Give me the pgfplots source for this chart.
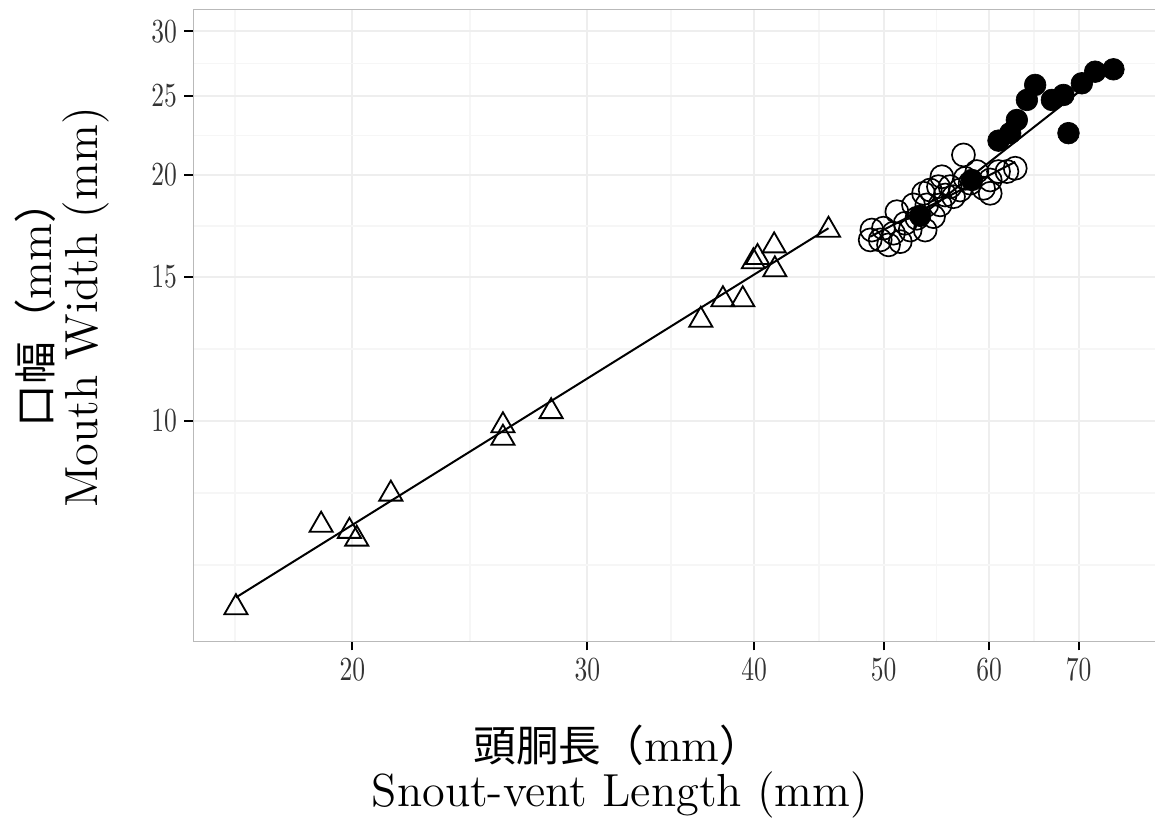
\documentclass[border=0pt]{standalone}
\usepackage{pgfplots}
\pgfplotsset{compat=1.18}
\usepackage{fontspec}
\newfontfamily\cjk{Noto Sans CJK JP}
\newcommand\tl[1]{\scalebox{0.76}[1]{#1}}
\begin{document}
\begin{tikzpicture}
\begin{axis}[
  at={(0,0)}, anchor=south west,
  scale only axis, width=288.81pt, height=189.66pt,
  xmode=log, ymode=log,
  xmin=15.2, xmax=80, ymin=5.37, ymax=31.92,
  xtick={20,30,40,50,60,70},
  xticklabels={\tl{20},\tl{30},\tl{40},\tl{50},\tl{60},\tl{70}},
  ytick={10,15,20,25,30},
  yticklabels={\tl{10},\tl{15},\tl{20},\tl{25},\tl{30}},
  minor xtick={16.33,24.49,34.64,44.72,54.77,64.81},
  minor ytick={6.667,8.165,12.247,17.32,22.36,27.39},
  grid=both,
  major grid style={gray!13, line width=0.6pt},
  minor grid style={gray!7, line width=0.5pt},
  tick align=outside, major tick length=2.7pt, minor tick length=0pt,
  xtick pos=bottom, ytick pos=left,
  tick style={black, line width=0.6pt},
  axis line style={gray!55, line width=0.45pt},
  ticklabel style={font=\fontsize{10.1}{12}\selectfont, text=black!80, inner sep=2pt},
]
% juveniles (open triangles)
\addplot[only marks, draw=black, mark=triangle, mark size=4.0pt, line width=0.55pt] coordinates {
(16.36,5.91) (18.95,7.457) (19.90,7.33) (20.15,7.17) (21.37,8.14)
(25.93,9.87) (25.93,9.53) (28.18,10.27)
(36.48,13.29) (37.90,14.08) (39.22,14.08) (39.95,15.67) (40.23,15.86)
(41.40,16.39) (41.45,15.32) (45.47,17.13)
};
% open circles
\addplot[only marks, draw=black, mark=o, mark size=3.45pt, line width=0.5pt] coordinates {
(48.86,16.66) (49.00,17.13) (49.99,17.22) (50.43,16.43) (51.46,16.58)
(51.90,17.46) (51.16,18.04) (52.65,18.39) (53.72,17.13) (54.50,17.79)
(54.19,19.18) (54.97,19.36) (55.29,19.91) (56.09,19.36) (56.41,18.82)
(57.07,19.18) (57.56,19.82) (57.39,21.17) (58.73,20.20) (59.41,19.27)
(60.10,19.73) (60.97,20.20) (61.86,20.20) (62.75,20.39) (52.96,17.71)
(52.35,17.13) (50.86,16.98) (53.57,19.00) (55.61,18.91) (53.88,18.39)
(49.71,16.66) (55.13,18.39) (60.10,19.00) (58.06,19.55)
};
% filled circles
\addplot[only marks, draw=black, fill=black, mark=*, mark size=3.25pt, line width=0.2pt] coordinates {
(53.26,17.83) (58.23,19.73) (60.97,22.04) (62.21,22.51) (62.93,23.36)
(64.03,24.72) (64.95,25.79) (66.85,24.72) (68.20,25.07) (68.79,22.51)
(70.40,25.91) (72.03,26.77) (74.34,26.95)
};
% regression lines
\addplot[black, line width=0.6pt] coordinates {(16.36,6.08) (45.47,17.22)};
\addplot[black, line width=0.6pt] coordinates {(48.86,16.81) (62.75,20.76)};
\addplot[black, line width=0.6pt] coordinates {(53.26,17.80) (74.34,27.30)};
\end{axis}
\node[rotate=90, inner sep=0pt] at (-47.5pt,101.25pt) {\fontsize{13.9}{16}\selectfont{\cjk\fontsize{12.8}{16}\selectfont 口幅（}mm{\cjk\fontsize{12.8}{16}\selectfont ）}};
\node[rotate=90, inner sep=0pt] at (-32.2pt,100.2pt) {\fontsize{13.9}{16}\selectfont Mouth Width (mm)};
\node[inner sep=0pt] at (127.4pt,-31.05pt) {\fontsize{13.9}{16}\selectfont{\cjk\fontsize{12.8}{16}\selectfont 頭胴長（}mm{\cjk\fontsize{12.8}{16}\selectfont ）}};
\node[inner sep=0pt] at (128pt,-46.05pt) {\fontsize{13.9}{16}\selectfont Snout-vent Length (mm)};
\pgfresetboundingbox
\path[use as bounding box] (-57.99pt,-53.55pt) rectangle (288.51pt,192.45pt);
\end{tikzpicture}
\end{document}
